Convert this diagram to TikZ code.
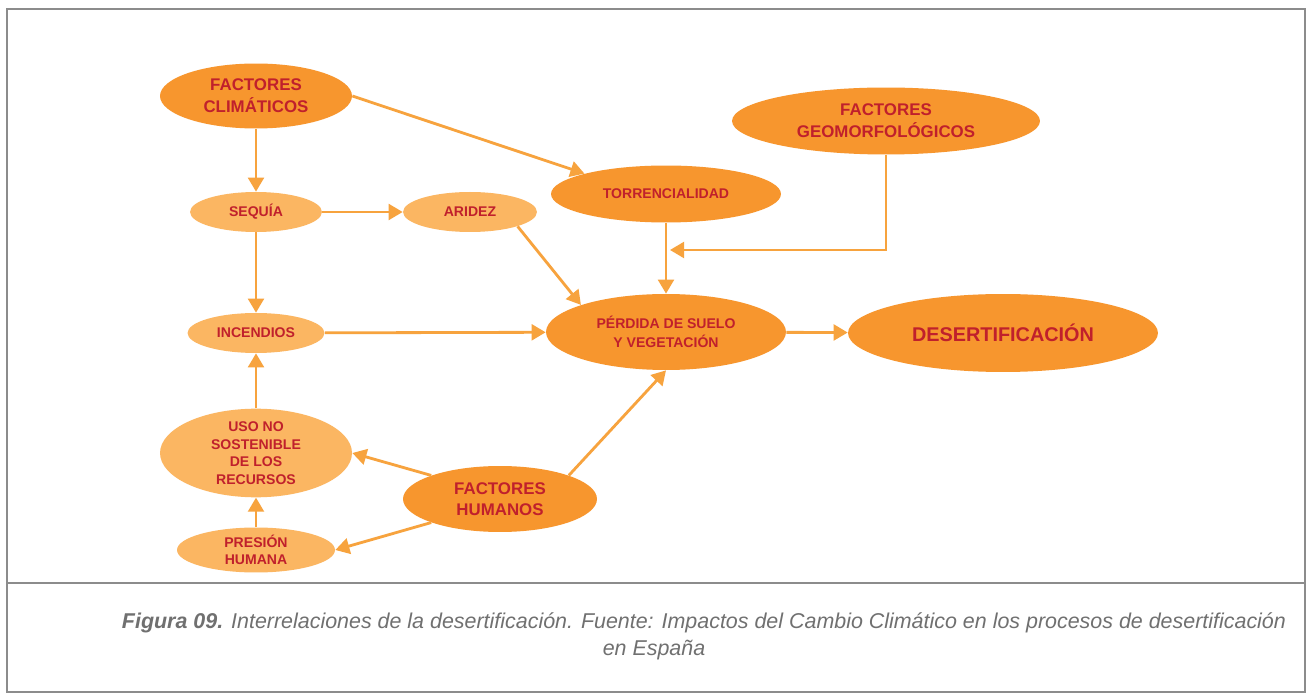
\documentclass[tikz,border=0pt]{standalone}
\usepackage{fontspec}
\setmainfont{Liberation Sans}
\usetikzlibrary{shapes.geometric,arrows.meta}
\definecolor{fdark}{RGB}{247,150,46}
\definecolor{flight}{RGB}{251,182,98}
\definecolor{ftext}{RGB}{192,32,44}
\definecolor{flink}{RGB}{247,163,62}
\definecolor{fframe}{RGB}{140,140,140}
\definecolor{fcaption}{RGB}{112,112,112}

\begin{document}
\begin{tikzpicture}[x=0.02cm,y=-0.02cm,
    hub/.style={ellipse,fill=fdark,text=ftext,align=center,inner sep=0pt,
        font=\bfseries\fontsize{8}{11}\selectfont},
    leaf/.style={ellipse,fill=flight,text=ftext,align=center,inner sep=0pt,
        font=\bfseries\fontsize{8}{10}\selectfont},
    factor/.style={hub,font=\bfseries\fontsize{9.6}{12.3}\selectfont},
    link/.style={flink,line width=1.6pt,-{Triangle[length=8pt,width=9pt]}}]
    \useasboundingbox[fill=white] (0,0) rectangle (1308,695);
    \draw[fframe,line width=1.2pt] (7,9) rectangle (1305,692);
    \draw[fframe,line width=1.2pt] (7,583) -- (1305,583);

    \node[factor,minimum width=3.84cm,minimum height=1.30cm] (clim) at (256,96) {FACTORES\\CLIMÁTICOS};
    \node[factor,minimum width=6.16cm,minimum height=1.34cm] (geo) at (886,121) {FACTORES\\GEOMORFOLÓGICOS};
    \node[factor,minimum width=3.88cm,minimum height=1.32cm] (hum) at (500,499) {FACTORES\\HUMANOS};
    \node[hub,minimum width=4.60cm,minimum height=1.14cm] (torr) at (666,194) {TORRENCIALIDAD};
    \node[hub,minimum width=4.80cm,minimum height=1.52cm] (perd) at (666,332) {PÉRDIDA DE SUELO\\Y VEGETACIÓN};
    \node[hub,minimum width=6.20cm,minimum height=1.56cm,font=\bfseries\fontsize{11.3}{13}\selectfont] (desert) at (1003,333) {DESERTIFICACIÓN};
    \node[leaf,minimum width=2.64cm,minimum height=0.80cm] (sequia) at (256,212) {SEQUÍA};
    \node[leaf,minimum width=2.68cm,minimum height=0.80cm] (aridez) at (470,212) {ARIDEZ};
    \node[leaf,minimum width=2.74cm,minimum height=0.80cm] (incendios) at (256,333) {INCENDIOS};
    \node[leaf,minimum width=3.84cm,minimum height=1.54cm] (uso) at (256,453) {USO NO\\SOSTENIBLE\\DE LOS\\RECURSOS};
    \node[leaf,minimum width=3.16cm,minimum height=0.90cm] (presion) at (256,550) {PRESIÓN\\HUMANA};
    \coordinate (geoend) at (670,250);

    \draw[link] (clim) -- (sequia);
    \draw[link] (clim.east) -- (torr.north west);
    \draw[link] (sequia) -- (aridez);
    \draw[link] (sequia) -- (incendios);
    \draw[link] (aridez.south east) -- (perd.north west);
    \draw[link] (torr) -- (perd);
    \draw[link] (geo.south) |- (geoend);
    \draw[link] (incendios) -- (perd);
    \draw[link] (perd) -- (desert);
    \draw[link] (hum.north east) -- (perd.south);
    \draw[link] (hum.north west) -- (uso.east);
    \draw[link] (hum.south west) -- (presion.east);
    \draw[link] (presion) -- (uso);
    \draw[link] (uso) -- (incendios);

    \node[text=fcaption,align=center,font=\itshape\fontsize{12.2}{15.3}\selectfont] (caption) at (654,636)
        {\hspace*{2cm}\textbf{Figura 09.} Interrelaciones de la desertificación. Fuente: Impactos del Cambio Climático en los procesos de desertificación\\en España};
\end{tikzpicture}
\end{document}
